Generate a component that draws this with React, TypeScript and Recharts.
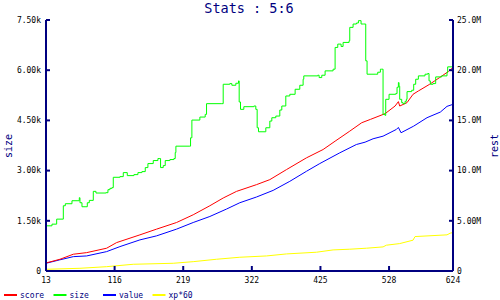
import React from 'react';
import { LineChart, Line, XAxis, YAxis } from 'recharts';

const NAVY = '#000080';
const FONT = '"DejaVu Sans Mono", monospace';

const title = 'Stats : 5:6';
const xTicks = [13, 116, 219, 322, 425, 528, 624];
const sizeTicks = [0, 1500, 3000, 4500, 6000, 7500];
const restTicks = [0, 5e6, 10e6, 15e6, 20e6, 25e6];

const sizeX = [13,22,29,39,39,42,52,61,63,64,67,73,75,78,82,84,88,103,106,109,112,114,124,129,135,145,151,157,162,166,174,181,184,185,189,192,199,205,207,208,229,230,232,244,252,254,277,279,289,292,298,302,303,305,310,325,328,330,332,342,343,349,352,358,364,367,373,379,387,394,399,400,421,423,427,432,444,447,451,456,459,468,469,474,479,482,486,490,493,495,507,511,515,517,519,522,523,528,538,540,542,543,544,547,549,552,554,555,562,565,568,572,582,586,588,590,594,598,607,615,616,624];
const sizeY = [1350,1400,1550,1550,1950,2010,2100,2100,2190,2040,1920,1920,2040,2110,2110,2380,2330,2340,2430,2470,2490,2800,2820,2940,2850,2880,2940,2970,3090,3210,3300,3360,3360,3090,3150,3300,3330,3360,3540,3730,3730,3980,4510,4600,4680,5000,5000,5580,5600,5550,5610,5680,5050,4830,4910,4930,4830,4280,4160,4160,4280,4480,4580,4630,4810,4930,5230,5280,5430,5550,5730,5830,5850,5780,5850,5980,6030,6680,6780,6710,6830,6880,7280,7380,7410,7480,7380,7380,6280,5880,5880,5940,6030,6030,4680,4650,5130,5280,5300,5490,5630,5520,5130,5030,5000,5070,5130,5360,5400,5580,5730,5830,5880,5900,5680,5580,5600,5800,5830,5930,6100,6130];

const scoreX = [13,34,54,74,104,119,154,179,209,234,259,279,299,329,349,374,404,429,447,469,487,500,522,537,542,544,555,564,572,589,604,617,624];
const scoreM = [0.8,1.17,1.67,1.83,2.27,2.83,3.6,4.17,4.83,5.6,6.5,7.27,7.93,8.6,9.1,10.1,11.27,12.1,12.93,13.93,14.77,15.1,15.67,16.43,16.87,16.43,16.77,17.6,17.93,18.6,19.27,19.87,20.27];

const valueX = [13,33,54,74,104,124,154,179,209,234,259,284,304,329,354,379,404,424,454,479,492,504,519,539,542,546,565,585,605,615,624];
const valueM = [0.77,1.1,1.43,1.5,1.93,2.43,3.1,3.5,4.17,4.83,5.43,6.17,6.8,7.37,8.03,8.93,9.93,10.7,11.77,12.6,12.83,13.17,13.43,14.1,14.3,13.77,14.43,15.27,15.83,16.4,16.6];

const xpX = [13,64,104,144,204,234,269,304,344,374,419,444,469,494,519,524,544,564,567,615,620,624];
const xpM = [0.17,0.27,0.43,0.67,0.77,0.93,1.17,1.37,1.5,1.7,1.87,2.1,2.17,2.27,2.4,2.57,2.73,3.07,3.43,3.6,3.77,3.83];

const legendItems = [
  { name: 'score', color: '#ff0000' },
  { name: 'size', color: '#00ff00' },
  { name: 'value', color: '#0000ff' },
  { name: 'xp*60', color: '#ffff00' },
];

const rows = (xs: number[], ys: number[], scale: number) =>
  xs.map((x, i) => ({ x, y: ys[i] * scale }));

const sizeData = rows(sizeX, sizeY, 1);
const scoreData = rows(scoreX, scoreM, 1e6);
const valueData = rows(valueX, valueM, 1e6);
const xpData = rows(xpX, xpM, 1e6);

const fmtSize = (v: number) => (v === 0 ? '0' : (v / 1000).toFixed(2) + 'k');
const fmtRest = (v: number) => {
  if (v === 0) return '0';
  const m = v / 1e6;
  return (m < 10 ? m.toFixed(2) : m.toFixed(1)) + 'M';
};

const LeftTick = (p: any) => (
  <g>
    <line x1={p.x + 5} x2={p.x + 9} y1={p.y} y2={p.y} stroke={NAVY} strokeWidth={2} />
    <text x={p.x} y={p.y} dy="0.355em" textAnchor="end" fontFamily={FONT} fontSize={8} fill="#000">
      {fmtSize(p.payload.value)}
    </text>
  </g>
);

const RightTick = (p: any) => (
  <g>
    <line x1={p.x - 4} x2={p.x - 8} y1={p.y} y2={p.y} stroke={NAVY} strokeWidth={2} />
    <text x={p.x} y={p.y} dy="0.355em" textAnchor="start" fontFamily={FONT} fontSize={8} fill="#000">
      {fmtRest(p.payload.value)}
    </text>
  </g>
);

const BottomTick = (p: any) => (
  <g>
    <line x1={p.x} x2={p.x} y1={p.y - 6} y2={p.y - 11} stroke={NAVY} strokeWidth={2} />
    <text x={p.x} y={p.y} dy="0.71em" textAnchor="middle" fontFamily={FONT} fontSize={8} fill="#000">
      {p.payload.value}
    </text>
  </g>
);

export default function App() {
  return (
    <div style={{ position: 'absolute', left: 0, top: 0, width: 500, height: 300, background: '#fff' }}>
      <LineChart width={500} height={300} margin={{ top: 20, right: 0, bottom: 0, left: 0 }}>
        <XAxis
          dataKey="x"
          type="number"
          domain={[13, 624]}
          ticks={xTicks}
          allowDataOverflow
          height={29}
          tickSize={0}
          tickMargin={6}
          tickLine={false}
          axisLine={{ stroke: NAVY, strokeWidth: 2 }}
          tick={BottomTick}
          interval={0}
        />
        <YAxis
          yAxisId="size"
          orientation="left"
          width={46}
          domain={[0, 7500]}
          ticks={sizeTicks}
          tickSize={0}
          tickMargin={5}
          tickLine={false}
          axisLine={{ stroke: NAVY, strokeWidth: 2 }}
          tick={LeftTick}
          interval={0}
        />
        <YAxis
          yAxisId="rest"
          orientation="right"
          width={47}
          domain={[0, 25e6]}
          ticks={restTicks}
          tickSize={0}
          tickMargin={4}
          tickLine={false}
          axisLine={{ stroke: NAVY, strokeWidth: 2 }}
          tick={RightTick}
          interval={0}
        />
        <Line yAxisId="rest" data={xpData} dataKey="y" type="linear" stroke="#ffff00" strokeWidth={1} dot={false} isAnimationActive={false} />
        <Line yAxisId="rest" data={valueData} dataKey="y" type="linear" stroke="#0000ff" strokeWidth={1} dot={false} isAnimationActive={false} />
        <Line yAxisId="rest" data={scoreData} dataKey="y" type="linear" stroke="#ff0000" strokeWidth={1} dot={false} isAnimationActive={false} />
        <Line yAxisId="size" data={sizeData} dataKey="y" type="stepAfter" stroke="#00ff00" strokeWidth={1} dot={false} isAnimationActive={false} />
      </LineChart>
      <svg width={500} height={300} style={{ position: 'absolute', left: 0, top: 0, pointerEvents: 'none' }}>
        <text x={249} y={13} textAnchor="middle" fontFamily={FONT} fontSize={13.5} fill={NAVY}>
          {title}
        </text>
        <text x={12} y={146} transform="rotate(-90 12 146)" textAnchor="middle" fontFamily={FONT} fontSize={10} fill={NAVY}>
          size
        </text>
        <text x={498} y={146} transform="rotate(-90 498 146)" textAnchor="middle" fontFamily={FONT} fontSize={10} fill={NAVY}>
          rest
        </text>
        {legendItems.map((it, i) => {
          const x0 = 4 + i * 49.5;
          return (
            <g key={it.name}>
              <line x1={x0} x2={x0 + 13} y1={295} y2={295} stroke={it.color} strokeWidth={2} />
              <text x={x0 + 16} y={298} fontFamily={FONT} fontSize={8} fill={NAVY}>
                {it.name}
              </text>
            </g>
          );
        })}
      </svg>
    </div>
  );
}
